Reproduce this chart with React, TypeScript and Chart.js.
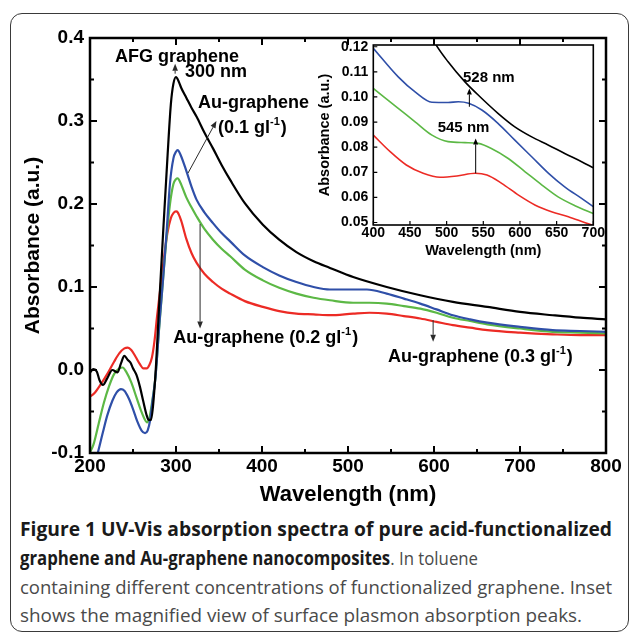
import React, { useEffect, useLayoutEffect, useRef } from 'react';
import { Chart, registerables } from 'chart.js';

Chart.register(...registerables);

const AXIS_FONT = "'Liberation Sans', Arial, Helvetica, sans-serif";
const CAPTION_FONT = "'Open Sans', 'Noto Sans', sans-serif";

const BLACK = '#000000';
const BLUE = '#2f4fa8';
const GREEN = '#5cb845';
const RED = '#ec2b25';

// ---------- main chart data ----------
const AFG_NM = [200, 204, 208, 211, 215, 220, 226, 232, 236, 240, 244, 247, 250, 254, 258, 262, 266, 268, 271, 274, 277, 280, 285, 290, 294, 297, 300, 303, 306, 312, 318, 324, 333, 343, 353, 363, 380, 401, 420, 440, 460, 479, 506, 545, 584, 622, 662, 700, 738, 770, 800];
const AFG_ABS = [-0.003, 0.001, -0.002, -0.012, -0.018, -0.010, 0.000, -0.003, 0.008, 0.017, 0.012, 0.009, 0.002, -0.006, -0.020, -0.038, -0.055, -0.060, -0.060, -0.035, 0.010, 0.070, 0.165, 0.255, 0.320, 0.345, 0.353, 0.348, 0.340, 0.328, 0.316, 0.305, 0.286, 0.267, 0.247, 0.229, 0.201, 0.175, 0.157, 0.142, 0.131, 0.123, 0.112, 0.100, 0.090, 0.082, 0.076, 0.070, 0.066, 0.063, 0.061];

const AU01_NM = [200, 205, 209, 215, 220, 226, 231, 236, 240, 245, 250, 255, 260, 264, 267, 270, 273, 276, 281, 285, 289, 293, 297, 300, 302, 305, 312, 318, 324, 333, 343, 353, 363, 380, 401, 420, 440, 460, 479, 502, 522, 545, 565, 584, 603, 622, 642, 662, 700, 738, 770, 800];
const AU01_ABS = [-0.130, -0.115, -0.100, -0.075, -0.055, -0.037, -0.027, -0.023, -0.025, -0.034, -0.047, -0.062, -0.073, -0.076, -0.073, -0.060, -0.035, -0.010, 0.060, 0.110, 0.165, 0.225, 0.255, 0.263, 0.265, 0.260, 0.240, 0.221, 0.205, 0.190, 0.177, 0.165, 0.155, 0.138, 0.124, 0.114, 0.106, 0.100, 0.097, 0.097, 0.097, 0.092, 0.086, 0.080, 0.073, 0.066, 0.061, 0.057, 0.052, 0.048, 0.047, 0.046];

const AU02_NM = [200, 204, 210, 216, 222, 228, 234, 238, 242, 248, 254, 259, 263, 266, 269, 272, 276, 280, 285, 289, 293, 297, 300, 302, 305, 312, 318, 324, 333, 343, 353, 363, 380, 401, 420, 440, 460, 479, 506, 525, 545, 565, 584, 603, 622, 642, 662, 700, 738, 770, 800];
const AU02_ABS = [-0.099, -0.090, -0.065, -0.040, -0.020, -0.005, 0.002, 0.003, -0.002, -0.015, -0.033, -0.048, -0.058, -0.063, -0.058, -0.040, -0.010, 0.045, 0.110, 0.160, 0.200, 0.224, 0.230, 0.231, 0.226, 0.208, 0.196, 0.185, 0.170, 0.157, 0.146, 0.137, 0.121, 0.108, 0.099, 0.092, 0.087, 0.084, 0.081, 0.081, 0.080, 0.077, 0.074, 0.069, 0.063, 0.059, 0.055, 0.050, 0.046, 0.045, 0.044];

const AU03_NM = [200, 205, 212, 220, 228, 234, 240, 244, 248, 253, 258, 262, 266, 269, 272, 275, 278, 282, 286, 290, 294, 297, 300, 302, 306, 312, 318, 324, 333, 343, 353, 363, 380, 401, 420, 440, 460, 479, 506, 525, 545, 565, 584, 603, 622, 642, 662, 700, 738, 770, 800];
const AU03_ABS = [-0.032, -0.028, -0.018, -0.005, 0.010, 0.020, 0.026, 0.027, 0.024, 0.016, 0.007, 0.002, 0.002, 0.006, 0.015, 0.035, 0.065, 0.100, 0.135, 0.165, 0.183, 0.189, 0.191, 0.190, 0.180, 0.158, 0.141, 0.129, 0.116, 0.106, 0.098, 0.092, 0.083, 0.076, 0.071, 0.068, 0.067, 0.066, 0.068, 0.069, 0.068, 0.065, 0.062, 0.058, 0.054, 0.051, 0.048, 0.045, 0.043, 0.042, 0.042];

const MAIN_X_TICKS = [200, 300, 400, 500, 600, 700, 800];
const MAIN_X_MINOR = [250, 350, 450, 550, 650, 750];
const MAIN_Y_TICKS = [-0.1, 0.0, 0.1, 0.2, 0.3, 0.4];
const MAIN_Y_MINOR = [-0.05, 0.05, 0.15, 0.25, 0.35];

// ---------- inset data ----------
const IN_AFG_NM = [478, 484, 502, 525, 548, 570, 593, 616, 639, 661, 684, 700];
const IN_AFG_ABS = [0.125, 0.1215, 0.114, 0.106, 0.0994, 0.0935, 0.0881, 0.0841, 0.0808, 0.0775, 0.0742, 0.0718];

const IN_AU01_NM = [400, 434, 457, 480, 502, 516, 530, 548, 570, 593, 616, 639, 661, 684, 700];
const IN_AU01_ABS = [0.1194, 0.108, 0.102, 0.0979, 0.0978, 0.0981, 0.0975, 0.0948, 0.0895, 0.0828, 0.0762, 0.0696, 0.0642, 0.0596, 0.0563];

const IN_AU02_NM = [400, 434, 457, 480, 502, 525, 543, 561, 584, 607, 630, 652, 675, 700];
const IN_AU02_ABS = [0.1034, 0.0955, 0.0901, 0.0848, 0.0822, 0.0818, 0.0815, 0.0795, 0.0755, 0.0702, 0.0649, 0.0602, 0.0567, 0.0536];

const IN_AU03_NM = [400, 423, 445, 468, 491, 514, 539, 555, 575, 598, 621, 643, 666, 689, 700];
const IN_AU03_ABS = [0.0848, 0.0782, 0.0729, 0.0696, 0.0680, 0.0685, 0.0696, 0.0689, 0.0656, 0.0609, 0.0569, 0.0543, 0.0523, 0.0499, 0.0488];

const INSET_X_TICKS = [400, 450, 500, 550, 600, 650, 700];
const INSET_Y_TICKS = [0.05, 0.06, 0.07, 0.08, 0.09, 0.10, 0.11, 0.12];

// ---------- annotations (data coordinates) ----------
const MAIN_TEXTS = [
  { x: 229, y: 0.377, parts: [{ t: 'AFG graphene' }] },
  { x: 310.5, y: 0.359, parts: [{ t: '300 nm' }] },
  { x: 325.6, y: 0.322, parts: [{ t: 'Au-graphene' }] },
  { x: 348.8, y: 0.2916, parts: [{ t: '(0.1 gl' }, { t: '-1', sup: true }, { t: ')' }] },
  { x: 296.9, y: 0.038, parts: [{ t: 'Au-graphene (0.2 gl' }, { t: '-1', sup: true }, { t: ')' }] },
  { x: 546.5, y: 0.0157, parts: [{ t: 'Au-graphene (0.3 gl' }, { t: '-1', sup: true }, { t: ')' }] },
];
const MAIN_ARROWS = [
  { x1: 299, y1: 0.357, x2: 299, y2: 0.369 },
  { x1: 314, y1: 0.2373, x2: 347, y2: 0.300 },
  { x1: 328, y1: 0.176, x2: 328, y2: 0.050 },
  { x1: 599, y1: 0.060, x2: 599, y2: 0.034 },
];
const INSET_TEXTS = [
  { x: 522.3, y: 0.1075, parts: [{ t: '528 nm' }] },
  { x: 487.8, y: 0.0875, parts: [{ t: '545 nm' }] },
];
const INSET_ARROWS = [
  { x1: 531, y1: 0.0961, x2: 531, y2: 0.1034 },
  { x1: 539.6, y1: 0.0696, x2: 539.6, y2: 0.0835 },
];

const pts = (xs: number[], ys: number[]) => xs.map((x, i) => ({ x, y: ys[i] }));

const framePlugin = {
  id: 'frameTicks',
  afterDatasetsDraw(chart: any, _args: any, opts: any) {
    const { ctx, chartArea: a, scales } = chart;
    const xs = scales.x;
    const ys = scales.y;
    ctx.save();
    ctx.strokeStyle = '#000';
    ctx.lineWidth = opts.tickWidth;
    ctx.beginPath();
    const sides: string[] = opts.sides;
    const drawX = (vals: number[], len: number) => {
      vals.forEach((v) => {
        const p = xs.getPixelForValue(v);
        if (sides.includes('bottom')) { ctx.moveTo(p, a.bottom); ctx.lineTo(p, a.bottom - len); }
        if (sides.includes('top')) { ctx.moveTo(p, a.top); ctx.lineTo(p, a.top + len); }
      });
    };
    const drawY = (vals: number[], len: number) => {
      vals.forEach((v) => {
        const p = ys.getPixelForValue(v);
        if (sides.includes('left')) { ctx.moveTo(a.left, p); ctx.lineTo(a.left + len, p); }
        if (sides.includes('right')) { ctx.moveTo(a.right, p); ctx.lineTo(a.right - len, p); }
      });
    };
    drawX(opts.xMajor, opts.majorLen);
    drawX(opts.xMinor, opts.minorLen);
    drawY(opts.yMajor, opts.majorLen);
    drawY(opts.yMinor, opts.minorLen);
    ctx.stroke();
    ctx.lineWidth = opts.frameWidth;
    ctx.strokeRect(a.left, a.top, a.right - a.left, a.bottom - a.top);
    ctx.restore();
  },
};

const notesPlugin = {
  id: 'notes',
  afterDatasetsDraw(chart: any, _args: any, opts: any) {
    const { ctx, scales } = chart;
    const xs = scales.x;
    const ys = scales.y;
    ctx.save();
    ctx.strokeStyle = opts.arrowColor;
    ctx.fillStyle = opts.arrowColor;
    ctx.lineWidth = opts.arrowWidth;
    opts.arrows.forEach((ar: any) => {
      const x1 = xs.getPixelForValue(ar.x1);
      const y1 = ys.getPixelForValue(ar.y1);
      const x2 = xs.getPixelForValue(ar.x2);
      const y2 = ys.getPixelForValue(ar.y2);
      const ang = Math.atan2(y2 - y1, x2 - x1);
      const h = opts.headLen;
      const w = opts.headHalf;
      const bx = x2 - h * Math.cos(ang);
      const by = y2 - h * Math.sin(ang);
      ctx.beginPath();
      ctx.moveTo(x1, y1);
      ctx.lineTo(bx, by);
      ctx.stroke();
      ctx.beginPath();
      ctx.moveTo(x2, y2);
      ctx.lineTo(bx + w * Math.sin(ang), by - w * Math.cos(ang));
      ctx.lineTo(bx - w * Math.sin(ang), by + w * Math.cos(ang));
      ctx.closePath();
      ctx.fill();
    });
    ctx.fillStyle = '#000';
    ctx.textBaseline = 'middle';
    ctx.textAlign = 'left';
    opts.texts.forEach((t: any) => {
      let px = xs.getPixelForValue(t.x);
      const py = ys.getPixelForValue(t.y);
      t.parts.forEach((p: any) => {
        ctx.font = p.sup ? `bold ${opts.supSize}px ${AXIS_FONT}` : `bold ${opts.size}px ${AXIS_FONT}`;
        ctx.fillText(p.t, px, p.sup ? py - opts.supRise : py);
        px += ctx.measureText(p.t).width + (p.sup ? 1 : 0);
      });
    });
    ctx.restore();
  },
};

function MainChart() {
  const ref = useRef<HTMLCanvasElement>(null);
  useEffect(() => {
    if (!ref.current) return;
    const line = (data: any, color: string) => ({
      data, borderColor: color, backgroundColor: color, borderWidth: 2.2, pointRadius: 0,
      cubicInterpolationMode: 'monotone', fill: false, borderJoinStyle: 'round', borderCapStyle: 'round',
    });
    const chart = new Chart(ref.current, {
      type: 'line',
      data: {
        datasets: [
          { label: 'AFG graphene', ...line(pts(AFG_NM, AFG_ABS), BLACK) },
          { label: 'Au-graphene (0.1 g/l)', ...line(pts(AU01_NM, AU01_ABS), BLUE) },
          { label: 'Au-graphene (0.2 g/l)', ...line(pts(AU02_NM, AU02_ABS), GREEN) },
          { label: 'Au-graphene (0.3 g/l)', ...line(pts(AU03_NM, AU03_ABS), RED) },
        ] as any,
      },
      options: {
        animation: false,
        responsive: false,
        maintainAspectRatio: false,
        devicePixelRatio: 1,
        layout: { padding: { top: 38, right: 23, left: 0, bottom: 0 } },
        plugins: {
          legend: { display: false },
          tooltip: { enabled: false },
          frameTicks: {
            sides: ['top', 'bottom', 'left', 'right'],
            xMajor: MAIN_X_TICKS, xMinor: MAIN_X_MINOR, yMajor: MAIN_Y_TICKS, yMinor: MAIN_Y_MINOR,
            majorLen: 7, minorLen: 4, tickWidth: 2, frameWidth: 2.5,
          },
          notes: {
            texts: MAIN_TEXTS, arrows: MAIN_ARROWS, size: 18, supSize: 11, supRise: 6,
            arrowColor: '#2a2a2a', arrowWidth: 1, headLen: 7, headHalf: 2.8,
          },
        } as any,
        scales: {
          x: {
            type: 'linear', min: 200, max: 800,
            afterBuildTicks: (s: any) => { s.ticks = MAIN_X_TICKS.map((v) => ({ value: v })); },
            afterFit: (s: any) => { s.height = 57; },
            grid: { display: false, drawTicks: false },
            border: { display: false },
            ticks: { autoSkip: false, maxRotation: 0, padding: 2, color: '#000', font: { family: AXIS_FONT, size: 19, weight: 'bold' }, callback: (v: any) => String(v) },
            title: { display: true, text: 'Wavelength (nm)', color: '#000', font: { family: AXIS_FONT, size: 22, weight: 'bold' }, padding: { top: 0, bottom: 2 } },
          },
          y: {
            type: 'linear', min: -0.1, max: 0.4,
            afterBuildTicks: (s: any) => { s.ticks = MAIN_Y_TICKS.map((v) => ({ value: v })); },
            afterFit: (s: any) => { s.width = 90; },
            grid: { display: false, drawTicks: false },
            border: { display: false },
            ticks: { autoSkip: false, padding: 6, color: '#000', font: { family: AXIS_FONT, size: 19, weight: 'bold' }, callback: (v: any) => Number(v).toFixed(1) },
            title: { display: true, text: 'Absorbance (a.u.)', color: '#000', font: { family: AXIS_FONT, size: 21, weight: 'bold' }, padding: { top: 21, bottom: 0 } },
          },
        } as any,
      },
      plugins: [framePlugin as any, notesPlugin as any],
    });
    return () => chart.destroy();
  }, []);
  return <canvas ref={ref} width={629} height={510} style={{ position: 'absolute', left: 0, top: 0, width: 629, height: 510 }} />;
}

function InsetChart() {
  const ref = useRef<HTMLCanvasElement>(null);
  useEffect(() => {
    if (!ref.current) return;
    const line = (data: any, color: string) => ({
      data, borderColor: color, backgroundColor: color, borderWidth: 1.6, pointRadius: 0,
      cubicInterpolationMode: 'monotone', fill: false, borderJoinStyle: 'round',
    });
    const chart = new Chart(ref.current, {
      type: 'line',
      data: {
        datasets: [
          { label: 'AFG graphene', ...line(pts(IN_AFG_NM, IN_AFG_ABS), BLACK) },
          { label: 'Au-graphene (0.1 g/l)', ...line(pts(IN_AU01_NM, IN_AU01_ABS), BLUE) },
          { label: 'Au-graphene (0.2 g/l)', ...line(pts(IN_AU02_NM, IN_AU02_ABS), GREEN) },
          { label: 'Au-graphene (0.3 g/l)', ...line(pts(IN_AU03_NM, IN_AU03_ABS), RED) },
        ] as any,
      },
      options: {
        animation: false,
        responsive: false,
        maintainAspectRatio: false,
        devicePixelRatio: 1,
        layout: { padding: { top: 15, right: 16.7, left: 0, bottom: 0 } },
        plugins: {
          legend: { display: false },
          tooltip: { enabled: false },
          frameTicks: {
            sides: ['bottom', 'left'],
            xMajor: INSET_X_TICKS, xMinor: [], yMajor: INSET_Y_TICKS, yMinor: [],
            majorLen: 4, minorLen: 2, tickWidth: 1.2, frameWidth: 1.6,
          },
          notes: {
            texts: INSET_TEXTS, arrows: INSET_ARROWS, size: 15, supSize: 9, supRise: 5,
            arrowColor: '#000', arrowWidth: 1, headLen: 6, headHalf: 2.5,
          },
        } as any,
        scales: {
          x: {
            type: 'linear', min: 400, max: 700,
            afterBuildTicks: (s: any) => { s.ticks = INSET_X_TICKS.map((v) => ({ value: v })); },
            afterFit: (s: any) => { s.height = 45; },
            grid: { display: false, drawTicks: false },
            border: { display: false },
            ticks: { autoSkip: false, maxRotation: 0, padding: 0, color: '#000', font: { family: AXIS_FONT, size: 14, weight: 'bold' }, callback: (v: any) => String(v) },
            title: { display: true, text: 'Wavelength (nm)', color: '#000', font: { family: AXIS_FONT, size: 14.5, weight: 'bold' }, padding: { top: 0, bottom: 10 } },
          },
          y: {
            type: 'linear', min: 0.049, max: 0.1207,
            afterBuildTicks: (s: any) => { s.ticks = INSET_Y_TICKS.map((v) => ({ value: v })); },
            afterFit: (s: any) => { s.width = 73.3; },
            grid: { display: false, drawTicks: false },
            border: { display: false },
            ticks: { autoSkip: false, padding: 5, color: '#000', font: { family: AXIS_FONT, size: 14, weight: 'bold' }, callback: (v: any) => Number(v).toFixed(2) },
            title: { display: true, text: 'Absorbance (a.u.)', color: '#000', font: { family: AXIS_FONT, size: 14.5, weight: 'bold' }, padding: { top: 16, bottom: 0 } },
          },
        } as any,
      },
      plugins: [framePlugin as any, notesPlugin as any],
    });
    return () => chart.destroy();
  }, []);
  return <canvas ref={ref} width={310} height={240} style={{ position: 'absolute', left: 300, top: 30, width: 310, height: 240 }} />;
}

const B = ({ children }: { children: React.ReactNode }) => (
  <span style={{ fontWeight: 700, color: '#1a1a1a' }}>{children}</span>
);

const lineStyle = (top: number): React.CSSProperties => ({
  position: 'absolute', left: 20, top, whiteSpace: 'nowrap', display: 'inline-block',
  transformOrigin: '0 0', fontFamily: CAPTION_FONT, fontSize: 19, lineHeight: '29px', color: '#4a4a4a',
});

const CAPTION_WIDTHS = [592, 458, 592, 562];

function Caption() {
  const r1 = useRef<HTMLSpanElement>(null);
  const r2 = useRef<HTMLSpanElement>(null);
  const r3 = useRef<HTMLSpanElement>(null);
  const r4 = useRef<HTMLSpanElement>(null);
  useLayoutEffect(() => {
    const els = [r1.current, r2.current, r3.current, r4.current];
    if (els.some((e) => !e)) return;
    els.forEach((e) => { (e as HTMLSpanElement).style.transform = 'none'; });
    const w = els.map((e) => (e as HTMLSpanElement).getBoundingClientRect().width);
    els.forEach((e, i) => {
      if (w[i] > 0) (e as HTMLSpanElement).style.transform = `scaleX(${CAPTION_WIDTHS[i] / w[i]})`;
    });
  });
  return (
    <>
      <span ref={r1} style={lineStyle(515)}>
        <B>Figure 1 UV-Vis absorption spectra of pure acid-functionalized</B>
      </span>
      <span ref={r2} style={lineStyle(544)}>
        <B>graphene and Au-graphene nanocomposites</B>. In toluene
      </span>
      <span ref={r3} style={lineStyle(573)}>
        containing different concentrations of functionalized graphene. Inset
      </span>
      <span ref={r4} style={lineStyle(601)}>
        shows the magnified view of surface plasmon absorption peaks.
      </span>
    </>
  );
}

export default function App() {
  return (
    <div style={{ position: 'absolute', left: 0, top: 0, width: 629, height: 632, overflow: 'hidden', background: '#fff' }}>
      <div
        style={{
          position: 'absolute', left: 10, top: 13, width: 619, height: 619, boxSizing: 'border-box',
          border: '1.5px solid #3a3a3a', borderRadius: 12,
        }}
      />
      <MainChart />
      <InsetChart />
      <Caption />
    </div>
  );
}
